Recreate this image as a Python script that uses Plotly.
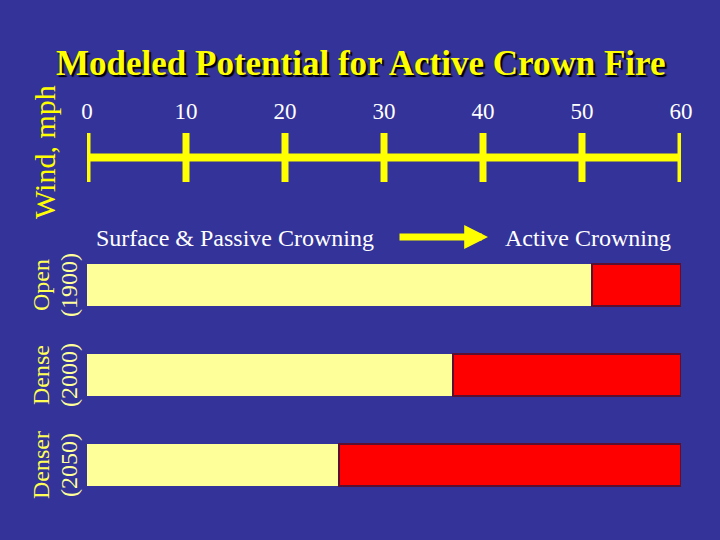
import plotly.graph_objects as go

# ---- data ----
categories = ["Open", "Dense", "Denser"]
years = ["(1900)", "(2000)", "(2050)"]
passive_end = [51, 37, 25.5]      # mph where surface/passive crowning ends
wind_max = 60
wind_ticks = [0, 10, 20, 30, 40, 50, 60]
wind_tick_labels = ["0", "10", "20", "30", "40", "50", "60"]
active_len = [wind_max - v for v in passive_end]

BG = "#333399"
YEL = "#FFFF00"
NAMEYEL = "#FFFF55"
PALE = "#FFFF99"
RED = "#FF0000"
FONT = "Liberation Serif"

W, H = 720, 540
ML, MR = 87, 39
PW = W - ML - MR


def px_x(px):
    return (px - ML) / PW


def px_y(py):
    return 1 - py / H


fig = go.Figure()

# bars
fig.add_trace(go.Bar(
    y=categories, x=passive_end, orientation="h",
    marker=dict(color=PALE, line=dict(width=0)),
    width=0.467, yaxis="y", xaxis="x", showlegend=False, hoverinfo="skip"))
fig.add_trace(go.Bar(
    y=categories, x=active_len, orientation="h",
    marker=dict(color=RED, line=dict(color="#5a1030", width=2)),
    width=0.46, yaxis="y", xaxis="x", showlegend=False, hoverinfo="skip"))

# wind axis line
fig.add_trace(go.Scatter(
    x=[wind_ticks[0], wind_ticks[-1]], y=[0, 0], mode="lines",
    line=dict(color=YEL, width=8), yaxis="y2", xaxis="x",
    showlegend=False, hoverinfo="skip"))
tx, ty = [], []
for t in wind_ticks:
    tx += [t, t, None]
    ty += [-1, 1, None]
fig.add_trace(go.Scatter(
    x=tx, y=ty, mode="lines", line=dict(color=YEL, width=7),
    yaxis="y2", xaxis="x", showlegend=False, hoverinfo="skip"))
# tick labels
fig.add_trace(go.Scatter(
    x=wind_ticks, y=[1.8] * len(wind_ticks), mode="text",
    text=wind_tick_labels, textposition="middle center",
    textfont=dict(family=FONT, size=23, color="white"),
    yaxis="y2", xaxis="x", showlegend=False, hoverinfo="skip", cliponaxis=False))

annotations = []
# title
annotations.append(dict(
    text="<b>Modeled Potential for Active Crown Fire</b>", x=px_x(360), y=px_y(64),
    xref="paper", yref="paper", xanchor="center", yanchor="middle", showarrow=False,
    font=dict(family=FONT, size=35, color=YEL, shadow="2px 2px 1px #000000")))
# wind axis title
annotations.append(dict(
    text="Wind, mph", x=px_x(45), y=px_y(152), xref="paper", yref="paper",
    xanchor="center", yanchor="middle", textangle=-90, showarrow=False,
    font=dict(family=FONT, size=30, color=YEL)))
# category labels
bar_centers = [285, 375, 465]
for c, yr, yc in zip(categories, years, bar_centers):
    annotations.append(dict(
        text=c, x=px_x(41), xref="paper", y=px_y(yc), yref="paper",
        xanchor="center", yanchor="middle", textangle=-90, showarrow=False,
        font=dict(family=FONT, size=24, color=NAMEYEL)))
    annotations.append(dict(
        text=yr, x=px_x(69), xref="paper", y=px_y(yc), yref="paper",
        xanchor="center", yanchor="middle", textangle=-90, showarrow=False,
        font=dict(family=FONT, size=24, color=PALE)))
# region labels
annotations.append(dict(
    text="Surface & Passive Crowning", x=px_x(94), y=px_y(238), xref="paper", yref="paper",
    xanchor="left", yanchor="middle", showarrow=False,
    font=dict(family=FONT, size=24, color="white")))
annotations.append(dict(
    text="Active Crowning", x=px_x(673), y=px_y(238), xref="paper", yref="paper",
    xanchor="right", yanchor="middle", showarrow=False,
    font=dict(family=FONT, size=24, color="white")))
# arrow
annotations.append(dict(
    x=px_x(488), y=px_y(237), xref="paper", yref="paper",
    ax=-90, ay=0, axref="pixel", ayref="pixel",
    text="", showarrow=True, arrowhead=2, arrowsize=0.68, arrowwidth=7,
    arrowcolor=YEL, standoff=0, startstandoff=0))

fig.update_layout(
    width=W, height=H,
    paper_bgcolor=BG, plot_bgcolor=BG,
    margin=dict(l=ML, r=MR, t=0, b=0),
    barmode="stack", bargap=0,
    xaxis=dict(range=[0, wind_max], visible=False, domain=[0, 1]),
    yaxis=dict(domain=[px_y(510), px_y(240)], range=[2.5, -0.5],
               visible=False, type="category"),
    yaxis2=dict(domain=[px_y(182), px_y(95)], range=[-1, 2.55],
                visible=False, anchor="x"),
    annotations=annotations,
)

fig.write_html("out.html", config={"displayModeBar": False},
               post_script="document.body.style.margin='0';document.body.style.overflow='hidden';")
